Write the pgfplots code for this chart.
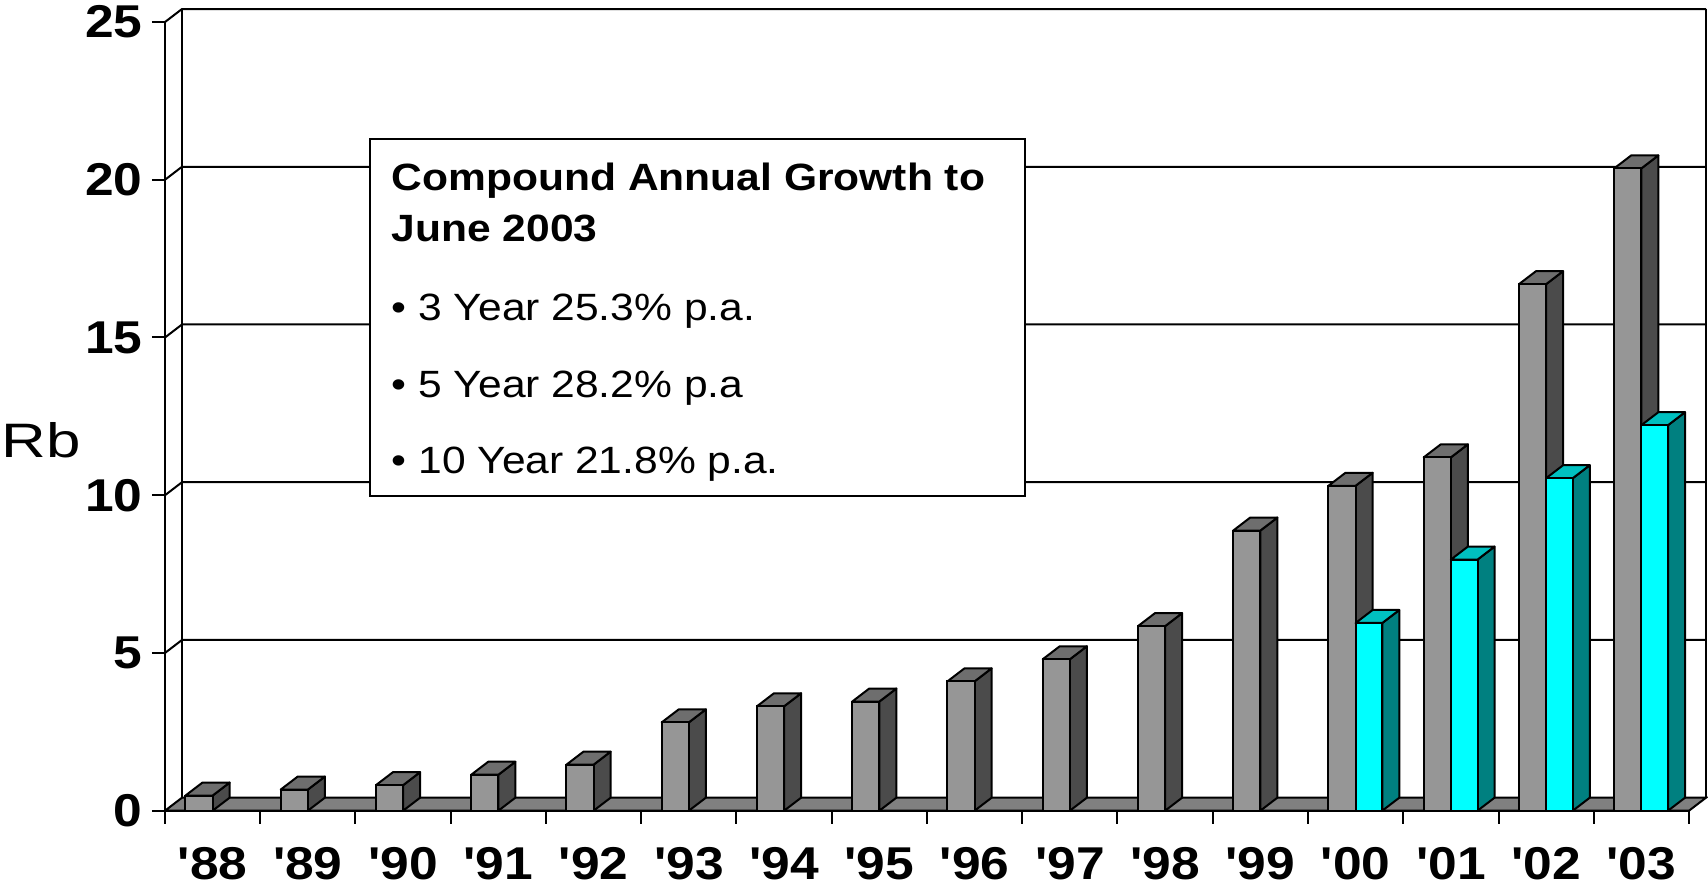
\documentclass[border=0pt]{standalone}
\usepackage{pgfplots}
\pgfplotsset{compat=1.18}
\usepackage{pgfplotstable}
\usepackage{fontspec}
\setmainfont{Liberation Sans}
\newfontfamily\tickfont[FakeStretch=1.12]{Liberation Sans}
\newfontfamily\rbfont[FakeStretch=1.28]{Liberation Sans}
\newfontfamily\boxfont[FakeStretch=1.12]{Liberation Sans}

\definecolor{gfront}{HTML}{969696}
\definecolor{gtop}{HTML}{6E6E6E}
\definecolor{gside}{HTML}{4B4B4B}
\definecolor{cfront}{HTML}{00FFFF}
\definecolor{ctop}{HTML}{00C0C0}
\definecolor{cside}{HTML}{008080}
\definecolor{floorc}{HTML}{808080}

\pgfplotstableread{
i total
0 0.48
1 0.67
2 0.81
3 1.14
4 1.46
5 2.80
6 3.31
7 3.46
8 4.10
9 4.80
10 5.85
11 8.88
12 10.30
13 11.20
14 16.69
15 20.36
}\grayData

\pgfplotstableread{
i val
12 5.95
13 7.96
14 10.54
15 12.22
}\cyanData

\def\dx{0.1785}
\def\dy{0.412}

\newcommand{\barsides}[4]{%
  \pgfmathsetmacro{\xl}{#1}%
  \pgfmathsetmacro{\xr}{#1+#2}%
  \pgfmathsetmacro{\xlb}{#1+\dx}%
  \pgfmathsetmacro{\xrb}{#1+#2+\dx}%
  \pgfmathsetmacro{\vt}{#3}%
  \pgfmathsetmacro{\vb}{#3+\dy}%
  \addplot[fill=#4side, draw=black, line width=0.6pt, line join=round] coordinates {(\xr,0) (\xrb,\dy) (\xrb,\vb) (\xr,\vt)} -- cycle;
  \addplot[fill=#4top, draw=black, line width=0.6pt, line join=round] coordinates {(\xl,\vt) (\xlb,\vb) (\xrb,\vb) (\xr,\vt)} -- cycle;
}

\begin{document}
\begin{tikzpicture}
\path[use as bounding box] (-49.5pt,-24.99pt) rectangle (462.9pt,243.21pt);
\begin{axis}[
  scale only axis,
  width=457.2pt, height=236.61pt,
  xmin=-0.5, xmax=15.5, ymin=0, ymax=25,
  clip=false,
  axis lines*=left,
  axis line style={black, line width=0.6pt},
  tick align=outside,
  major tick length=3.9pt,
  tick style={black, line width=0.6pt},
  xtick={-0.5,0.5,...,15.5},
  x tick label as interval,
  xticklabels={'88,'89,'90,'91,'92,'93,'94,'95,'96,'97,'98,'99,'00,'01,'02,'03},
  ytick={0,5,...,25},
  /pgf/number format/assume math mode=true,
  yticklabel style={font=\tickfont\bfseries\fontsize{13.8}{14}\selectfont, anchor=east, inner sep=0pt, xshift=-2.7pt},
  xticklabel style={font=\tickfont\bfseries\fontsize{13.8}{14}\selectfont, anchor=north, inner sep=0pt, yshift=-7pt},
]
% back wall gridlines and frame
\pgfplotsforeachungrouped \g in {5,10,...,25}{%
  \pgfmathsetmacro{\gb}{\g+\dy}%
  \addplot[black, line width=0.6pt] coordinates {(-0.5,\g) (-0.3215,\gb) (15.6785,\gb)};
}
\addplot[black, line width=0.6pt] coordinates {(-0.3215,0.412) (-0.3215,25.412)};
\addplot[black, line width=0.6pt] coordinates {(15.6785,0.412) (15.6785,25.412)};
% floor
\addplot[fill=floorc, draw=black, line width=0.6pt] coordinates {(-0.5,0) (15.5,0) (15.6785,0.412) (-0.3215,0.412)} -- cycle;
% text box
\draw[fill=white, line width=0.6pt] (axis cs:1.652,9.99) rectangle (axis cs:8.529,21.29);
\node[anchor=base west, inner sep=0pt, font=\boxfont\bfseries\fontsize{11.4}{13}\selectfont] at (axis cs:1.873,19.67) {Compound Annual Growth to};
\node[anchor=base west, inner sep=0pt, font=\boxfont\bfseries\fontsize{11.4}{13}\selectfont] at (axis cs:1.873,18.03) {June 2003};
\node[anchor=base west, inner sep=0pt, font=\boxfont\fontsize{11.4}{13}\selectfont] at (axis cs:1.873,15.55) {• 3 Year 25.3\% p.a.};
\node[anchor=base west, inner sep=0pt, font=\boxfont\fontsize{11.4}{13}\selectfont] at (axis cs:1.873,13.11) {• 5 Year 28.2\% p.a};
\node[anchor=base west, inner sep=0pt, font=\boxfont\fontsize{11.4}{13}\selectfont] at (axis cs:1.873,10.70) {• 10 Year 21.8\% p.a.};
% gray bars
\pgfplotsforeachungrouped \k in {0,...,15}{%
  \pgfplotstablegetelem{\k}{total}\of\grayData
  \let\curval\pgfplotsretval
  \pgfmathsetmacro{\xx}{\k-0.285}%
  \barsides{\xx}{0.285}{\curval}{g}
}
\addplot[ybar, bar width=0.285, bar shift=0pt, fill=gfront, draw=black, line width=0.6pt] table[x expr=\thisrow{i}-0.1425, y=total]{\grayData};
% cyan bars
\pgfplotsforeachungrouped \k in {0,...,3}{%
  \pgfplotstablegetelem{\k}{val}\of\cyanData
  \let\curval\pgfplotsretval
  \pgfplotstablegetelem{\k}{i}\of\cyanData
  \let\curx\pgfplotsretval
  \barsides{\curx}{0.28}{\curval}{c}
}
\addplot[ybar, bar width=0.28, bar shift=0pt, fill=cfront, draw=black, line width=0.6pt] table[x expr=\thisrow{i}+0.14, y=val]{\cyanData};
% y label
\node[anchor=base west, inner sep=0pt, font=\rbfont\fontsize{14.5}{16}\selectfont] at ([xshift=-49.2pt]axis cs:-0.5,11.2) {Rb};
\end{axis}
\end{tikzpicture}
\end{document}
